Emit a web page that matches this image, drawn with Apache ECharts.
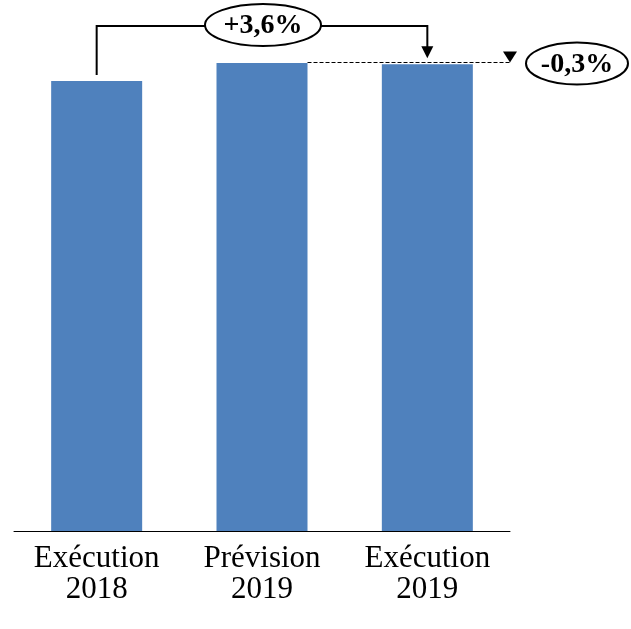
<!DOCTYPE html>
<html>
<head>
<meta charset="utf-8">
<script src="https://cdn.jsdelivr.net/npm/echarts@6/dist/echarts.min.js"></script>
<style>
  html, body { margin: 0; padding: 0; background: #fff; }
  #chart { width: 631px; height: 629px; }
</style>
</head>
<body>
<div id="chart"></div>
<script>
// données (base 100 = exécution 2018)
const categories = ['Exécution\n2018', 'Prévision\n2019', 'Exécution\n2019']
const values = [100, 104, 103.7]
const changeLabels = ['+3,6%', '-0,3%']

const FONT = '"Liberation Serif", "DejaVu Serif", serif'
const BAR_W = 91

const chart = echarts.init(document.getElementById('chart'))

chart.setOption({
  animation: false,
  grid: { left: 14, right: 121, top: 36, bottom: 98, outerBoundsMode: 'none' },
  xAxis: {
    type: 'category',
    data: categories,
    axisTick: { show: false },
    axisLine: { lineStyle: { color: '#000', width: 1 } },
    axisLabel: {
      color: '#000',
      fontFamily: FONT,
      fontSize: 31,
      lineHeight: 31,
      margin: 12,
      interval: 0
    }
  },
  yAxis: {
    type: 'value',
    min: 0,
    max: 110,
    show: false
  },
  series: [
    {
      type: 'bar',
      data: values,
      barWidth: BAR_W,
      itemStyle: { color: '#4F81BD' }
    }
  ]
})

// annotations : positions calculées à partir des axes
const p0 = chart.convertToPixel({ seriesIndex: 0 }, [0, values[0]])
const p1 = chart.convertToPixel({ seriesIndex: 0 }, [1, values[1]])
const p2 = chart.convertToPixel({ seriesIndex: 0 }, [2, values[2]])
const axisEnd = chart.convertToPixel({ xAxisIndex: 0 }, 2) + (p2[0] - p1[0]) / 2

const bracketY = 26
const arrowTip = p2[1] - 6
const midX = (p0[0] + p2[0]) / 2 + 1
const dashY = Math.round(p1[1]) - 0.5
const ellipseStyle = { fill: '#fff', stroke: '#000', lineWidth: 2 }
const textStyle = (txt, x, y) => ({
  text: txt, x: x, y: y,
  font: 'bold 28px ' + FONT,
  fill: '#000',
  align: 'center',
  verticalAlign: 'middle'
})

chart.setOption({
  graphic: [
    {
      type: 'polyline',
      shape: { points: [[p0[0], p0[1] - 6], [p0[0], bracketY], [p2[0], bracketY], [p2[0], arrowTip - 10]] },
      style: { stroke: '#000', lineWidth: 2, fill: null }
    },
    {
      type: 'polygon',
      shape: { points: [[p2[0] - 6, arrowTip - 12], [p2[0] + 6, arrowTip - 12], [p2[0], arrowTip]] },
      style: { fill: '#000' }
    },
    {
      type: 'ellipse',
      shape: { cx: midX, cy: bracketY - 1, rx: 58, ry: 21 },
      style: ellipseStyle
    },
    {
      type: 'text',
      style: textStyle(changeLabels[0], midX, bracketY)
    },
    {
      type: 'line',
      shape: { x1: p1[0] + BAR_W / 2, y1: dashY, x2: axisEnd, y2: dashY },
      style: { stroke: '#000', lineWidth: 1, lineDash: [4, 2] }
    },
    {
      type: 'polygon',
      shape: { points: [[axisEnd - 7, dashY - 11], [axisEnd + 7, dashY - 11], [axisEnd, dashY]] },
      style: { fill: '#000' }
    },
    {
      type: 'ellipse',
      shape: { cx: axisEnd + 67, cy: dashY + 1, rx: 51, ry: 21 },
      style: ellipseStyle
    },
    {
      type: 'text',
      style: textStyle(changeLabels[1], axisEnd + 67, dashY + 2)
    }
  ]
})
</script>
</body>
</html>
